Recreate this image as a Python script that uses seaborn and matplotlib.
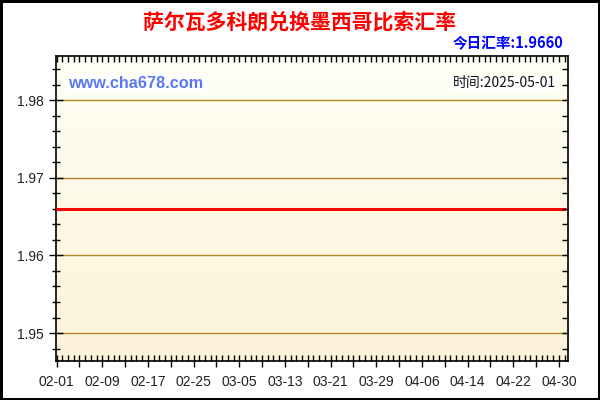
import numpy as np
import pandas as pd
import matplotlib
matplotlib.use("Agg")
import matplotlib.pyplot as plt
import matplotlib.dates as mdates
from matplotlib.ticker import MultipleLocator, FixedLocator, NullFormatter
import seaborn as sns

# data
dates = pd.date_range("2025-02-01", "2025-05-01", freq="D")
rates = [1.9660] * len(dates)
tick_labels = ["02-01", "02-09", "02-17", "02-25", "03-05", "03-13",
               "03-21", "03-29", "04-06", "04-14", "04-22", "04-30"]
y_ticks = [1.95, 1.96, 1.97, 1.98]
title = "萨尔瓦多科朗兑换墨西哥比索汇率"
today_text = "今日汇率:1.9660"
site_text = "www.cha678.com"
time_text = "时间:2025-05-01"

sns.set_theme(style="white")
plt.rcParams['font.family'] = ['Liberation Sans', 'Noto Sans CJK SC', 'DejaVu Sans']
cjk = ['Noto Sans CJK SC', 'DejaVu Sans']

df = pd.DataFrame({"date": dates, "rate": rates})

fig = plt.figure(figsize=(6, 4), dpi=100)
fig.patch.set_facecolor("white")
fig.patch.set_edgecolor("black")
fig.patch.set_linewidth(2.5)
ax = fig.add_axes([56 / 600, 1 - 361 / 400, 512 / 600, 305 / 400])

# gradient background
grad = np.linspace(0, 1, 256).reshape(-1, 1)
top = np.array([1.0, 1.0, 0.96])
bot = np.array([0.99, 0.95, 0.85])
img = (top + (bot - top) * grad).reshape(256, 1, 3)
ax.imshow(img, extent=[0, 1, 0, 1], transform=ax.transAxes, aspect="auto", zorder=0)

sns.lineplot(data=df, x="date", y="rate", color="#ff0000", linewidth=2.2, ax=ax, zorder=3)

x0 = mdates.date2num(pd.Timestamp("2025-02-01"))
xlim = (x0 - 0.1, x0 + 89.6)
ylim = (1.9464, 1.9857)
ax.set_xlim(*xlim)
ax.set_ylim(*ylim)

major_x = [x0 + d for d in range(0, 90, 4)]
ax.xaxis.set_major_locator(FixedLocator(major_x))
labels = [tick_labels[d // 8] if d % 8 == 0 else "" for d in range(0, 90, 4)]
ax.set_xticklabels(labels)
ax.xaxis.set_minor_locator(MultipleLocator(1))

ax.set_yticks(y_ticks)
ax.set_yticklabels([f"{v:.2f}" for v in y_ticks])
ax.yaxis.set_minor_locator(MultipleLocator(0.002))

ax.tick_params(axis="both", which="both", colors="black", labelsize=10,
               labelcolor="#222222", bottom=True, left=True, top=False, right=False)
ax.tick_params(axis="x", which="major", direction="inout", length=8, width=1, pad=6)
ax.tick_params(axis="x", which="minor", direction="in", length=4, width=1)
ax.tick_params(axis="y", which="major", direction="inout", length=10, width=1, pad=4)
ax.tick_params(axis="y", which="minor", direction="inout", length=6, width=1)
for spine in ax.spines.values():
    spine.set_color("black")
    spine.set_linewidth(1.2)
ax.grid(axis="y", which="major", color="#b0862a", linewidth=1, zorder=1)
ax.grid(axis="x", visible=False)
ax.set_xlabel("")
ax.set_ylabel("")

# short inward ticks on top and right
ax_r = ax.twinx()
ax_r.set_ylim(*ylim)
ax_r.yaxis.set_major_locator(MultipleLocator(0.002))
ax_r.yaxis.set_major_formatter(NullFormatter())
ax_r.tick_params(axis="y", right=True, direction="in", length=4, width=1, colors="black")
ax_t = ax.twiny()
ax_t.set_xlim(*xlim)
ax_t.xaxis.set_major_locator(MultipleLocator(1))
ax_t.xaxis.set_major_formatter(NullFormatter())
ax_t.tick_params(axis="x", top=True, direction="in", length=4, width=1, colors="black")
for a in (ax_r, ax_t):
    a.grid(False)
    for spine in a.spines.values():
        spine.set_visible(False)

fig.text(0.5, 1 - 22 / 400, title, ha="center", va="center", color="#ff0000",
         fontsize=15, fontweight="bold", family=cjk)
fig.text(563 / 600, 1 - 43 / 400, today_text, ha="right", va="center", color="#0000ff",
         fontsize=10.5, fontweight="bold", family=cjk)
ax.text(68 / 600, 1 - 83 / 400, site_text, transform=fig.transFigure, ha="left", va="center",
        color="#5a78f0", fontsize=11.7, fontweight="bold", zorder=4,
        bbox=dict(facecolor="white", edgecolor="none", pad=1))
ax.text(556 / 600, 1 - 83 / 400, time_text, transform=fig.transFigure, ha="right", va="center",
        color="#111111", fontsize=10, zorder=4, family=cjk,
        bbox=dict(facecolor="white", edgecolor="none", pad=1))

fig.savefig("out.png", dpi=100)
